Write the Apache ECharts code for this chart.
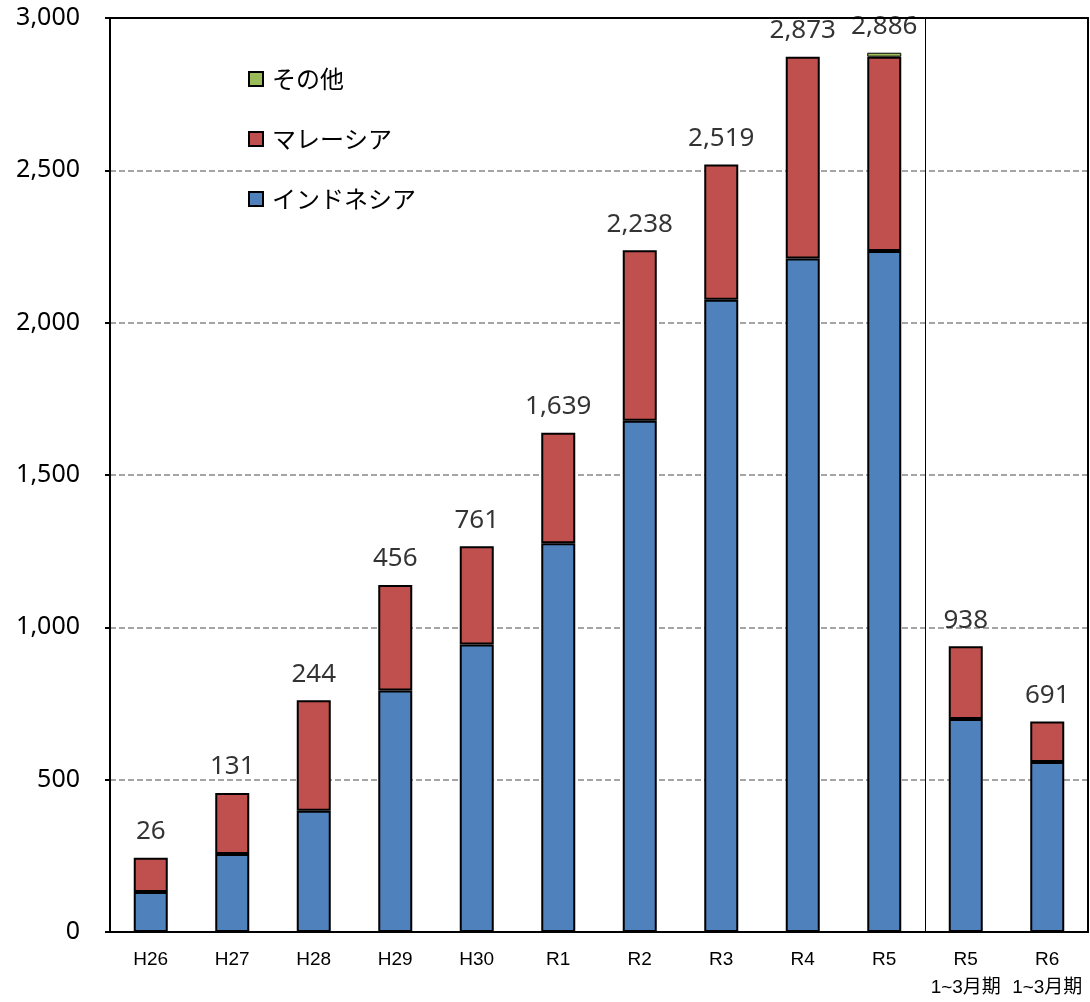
<!DOCTYPE html>
<html>
<head>
<meta charset="utf-8">
<script src="https://cdn.jsdelivr.net/npm/echarts@6/dist/echarts.min.js"></script>
<style>
html,body{margin:0;padding:0;background:#fff;}
#chart{width:1090px;height:1002px;}
</style>
</head>
<body>
<div id="chart"></div>
<script>
const categories = ['H26','H27','H28','H29','H30','R1','R2','R3','R4','R5','R5\n1~3月期','R6\n1~3月期'];
const indonesia = [131, 256, 398, 793, 944, 1276, 1678, 2075, 2211, 2235, 699, 558];
const malaysia  = [113, 200, 363, 346, 322, 363, 560, 444, 662, 638, 239, 133];
const others    = [0, 0, 0, 0, 0, 0, 0, 0, 0, 13, 0, 0];
const totalLabels = [26, 131, 244, 456, 761, 1639, 2238, 2519, 2873, 2886, 938, 691];
const yTicks = [0, 500, 1000, 1500, 2000, 2500, 3000];

const totals = categories.map((c, i) => indonesia[i] + malaysia[i] + others[i]);
const fmt = v => Number(v).toLocaleString('en-US');
const nz = arr => arr.map(v => (v === 0 ? '-' : v));

const chart = echarts.init(document.getElementById('chart'));
const barStyle = (color, bw) => ({ color: color, borderColor: '#000', borderWidth: bw });

chart.setOption({
  animation: false,
  grid: { left: 110, right: 2, top: 18, bottom: 70 },
  legend: {
    data: ['その他', 'マレーシア', 'インドネシア'],
    orient: 'vertical',
    left: 243, top: 62,
    itemWidth: 14, itemHeight: 14, itemGap: 36,
    icon: 'rect',
    itemStyle: { borderColor: '#000', borderWidth: 2 },
    textStyle: { fontSize: 24, fontFamily: 'Noto Sans CJK JP', color: '#000', padding: [0, 0, 0, 4] }
  },
  xAxis: [{
    type: 'category',
    data: categories,
    axisLine: { lineStyle: { color: '#000', width: 2 } },
    axisTick: { show: false },
    axisLabel: { fontSize: 19, lineHeight: 28, margin: 14, color: '#000', fontFamily: 'Liberation Sans, Noto Sans CJK JP', interval: 0 },
    splitLine: { show: false }
  }, {
    type: 'category', position: 'top', data: categories,
    axisLine: { show: true, onZero: false, lineStyle: { color: '#000', width: 2 } },
    axisTick: { show: false }, axisLabel: { show: false }, splitLine: { show: false }
  }],
  yAxis: [{
    type: 'value',
    min: yTicks[0], max: yTicks[yTicks.length - 1], interval: 500,
    axisLine: { show: true, lineStyle: { color: '#000', width: 2 } },
    axisTick: { show: true, length: 5, lineStyle: { color: '#000', width: 2 } },
    axisLabel: { fontSize: 25, margin: 30, color: '#000', fontFamily: 'Noto Sans', formatter: fmt },
    splitLine: { show: true, lineStyle: { color: '#888', width: 1.5, type: [6, 3] } }
  }, {
    type: 'value', position: 'right',
    min: yTicks[0], max: yTicks[yTicks.length - 1], interval: 500,
    axisLine: { show: true, onZero: false, lineStyle: { color: '#000', width: 2 } },
    axisTick: { show: false }, axisLabel: { show: false }, splitLine: { show: false }
  }],
  series: [
    { name: 'インドネシア', type: 'bar', stack: 's', barWidth: 34, data: nz(indonesia), itemStyle: barStyle('#4F81BD', 2) },
    { name: 'マレーシア', type: 'bar', stack: 's', barWidth: 34, data: nz(malaysia), itemStyle: barStyle('#C0504D', 2) },
    { name: 'その他', type: 'bar', stack: 's', barWidth: 34, data: nz(others), itemStyle: barStyle('#9BBB59', 1) },
    {
      name: 'totals', type: 'scatter', symbolSize: 0, silent: true, z: 10,
      data: totals,
      label: {
        show: true, position: 'top', distance: 13,
        fontSize: 26, fontFamily: 'Noto Sans', color: '#000',
        formatter: p => fmt(totalLabels[p.dataIndex])
      }
    }
  ]
});

// separator between annual data and the 1~3月期 comparison, placed at the category boundary
const xa = chart.convertToPixel({ xAxisIndex: 0 }, categories[9]);
const xb = chart.convertToPixel({ xAxisIndex: 0 }, categories[10]);
const yTop = chart.convertToPixel({ yAxisIndex: 0 }, yTicks[yTicks.length - 1]);
const yBot = chart.convertToPixel({ yAxisIndex: 0 }, yTicks[0]);
const xs = Math.round((xa + xb) / 2) + 0.5;
chart.setOption({
  graphic: [{
    type: 'line', silent: true, z: 5,
    shape: { x1: xs, y1: yTop, x2: xs, y2: yBot },
    style: { stroke: '#000', lineWidth: 1 }
  }]
});
</script>
</body>
</html>
